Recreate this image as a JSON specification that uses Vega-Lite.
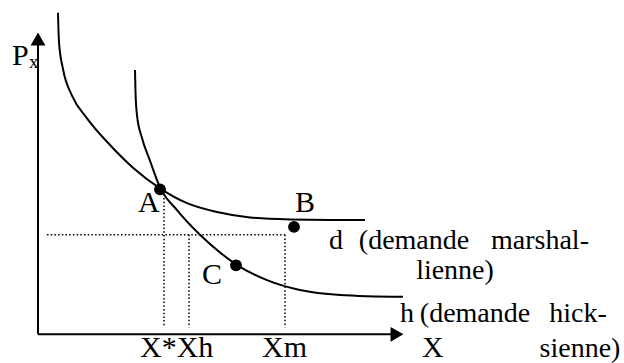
{
  "$schema": "https://vega.github.io/schema/vega-lite/v6.json",
  "width": 624,
  "height": 363,
  "autosize": {"type": "fit", "contains": "padding"},
  "padding": 0,
  "background": "white",
  "config": {"view": {"stroke": null}, "font": "'Liberation Serif', 'Times New Roman', serif"},
  "datasets": {
    "curves": [
      {"curve": "d", "i": 0, "x": 58, "y": 350},
      {"curve": "d", "i": 1, "x": 59, "y": 320},
      {"curve": "d", "i": 2, "x": 63, "y": 293},
      {"curve": "d", "i": 3, "x": 72, "y": 266},
      {"curve": "d", "i": 4, "x": 87, "y": 243},
      {"curve": "d", "i": 5, "x": 110, "y": 216},
      {"curve": "d", "i": 6, "x": 133, "y": 193},
      {"curve": "d", "i": 7, "x": 160, "y": 172},
      {"curve": "d", "i": 8, "x": 187, "y": 157},
      {"curve": "d", "i": 9, "x": 217, "y": 148},
      {"curve": "d", "i": 10, "x": 250, "y": 142.5},
      {"curve": "d", "i": 11, "x": 290, "y": 140.5},
      {"curve": "d", "i": 12, "x": 330, "y": 140},
      {"curve": "d", "i": 13, "x": 365, "y": 140},
      {"curve": "h", "i": 0, "x": 135, "y": 292},
      {"curve": "h", "i": 1, "x": 135.5, "y": 270},
      {"curve": "h", "i": 2, "x": 137, "y": 246},
      {"curve": "h", "i": 3, "x": 142, "y": 223},
      {"curve": "h", "i": 4, "x": 150, "y": 200},
      {"curve": "h", "i": 5, "x": 160, "y": 173},
      {"curve": "h", "i": 6, "x": 177, "y": 150},
      {"curve": "h", "i": 7, "x": 200, "y": 125},
      {"curve": "h", "i": 8, "x": 220, "y": 107},
      {"curve": "h", "i": 9, "x": 236, "y": 95},
      {"curve": "h", "i": 10, "x": 267, "y": 79},
      {"curve": "h", "i": 11, "x": 300, "y": 69},
      {"curve": "h", "i": 12, "x": 340, "y": 64},
      {"curve": "h", "i": 13, "x": 403, "y": 62}
    ],
    "points": [
      {"name": "A", "x": 160, "y": 171},
      {"name": "B", "x": 294, "y": 133},
      {"name": "C", "x": 236, "y": 94}
    ],
    "dotted": [
      {"x": 47, "y": 125, "x2": 285, "y2": 125},
      {"x": 164, "y": 166, "x2": 164, "y2": 31},
      {"x": 189, "y": 125, "x2": 189, "y2": 31},
      {"x": 285, "y": 125, "x2": 285, "y2": 31}
    ],
    "axes": [
      {"x": 38, "y": 24, "x2": 38, "y2": 318},
      {"x": 38, "y": 24, "x2": 392, "y2": 24}
    ],
    "arrowUp": [{"x": 38, "y": 323.5}],
    "arrowRight": [{"x": 397, "y": 24}],
    "letters": [
      {"label": "P", "x": 12, "y": 297},
      {"label": "A", "x": 138, "y": 148},
      {"label": "B", "x": 295, "y": 148},
      {"label": "C", "x": 202, "y": 75},
      {"label": "X*Xh", "x": 140, "y": 1},
      {"label": "Xm", "x": 262, "y": 1},
      {"label": "X", "x": 422, "y": 1}
    ],
    "subscript": [{"label": "x", "x": 29, "y": 294}],
    "curveLabels": [
      {"label": "d", "x": 336, "y": 111},
      {"label": "(demande", "x": 414, "y": 111},
      {"label": "marshal-", "x": 540, "y": 111},
      {"label": "lienne)", "x": 455, "y": 80},
      {"label": "h", "x": 407, "y": 37},
      {"label": "(demande", "x": 475, "y": 37},
      {"label": "hick-", "x": 578, "y": 37},
      {"label": "sienne)", "x": 580, "y": 1}
    ]
  },
  "encoding": {
    "x": {"field": "x", "type": "quantitative", "scale": {"domain": [0, 624], "nice": false, "zero": false}, "axis": null},
    "y": {"field": "y", "type": "quantitative", "scale": {"domain": [0, 363], "nice": false, "zero": false}, "axis": null}
  },
  "layer": [
    {
      "data": {"name": "dotted"},
      "mark": {"type": "rule", "color": "black", "strokeWidth": 1.5, "strokeDash": [1.5, 2.2]},
      "encoding": {"x2": {"field": "x2"}, "y2": {"field": "y2"}}
    },
    {
      "data": {"name": "axes"},
      "mark": {"type": "rule", "color": "black", "strokeWidth": 2},
      "encoding": {"x2": {"field": "x2"}, "y2": {"field": "y2"}}
    },
    {
      "data": {"name": "arrowUp"},
      "mark": {"type": "point", "shape": "triangle-up", "filled": true, "color": "black", "size": 220, "opacity": 1}
    },
    {
      "data": {"name": "arrowRight"},
      "mark": {"type": "point", "shape": "triangle-right", "filled": true, "color": "black", "size": 220, "opacity": 1}
    },
    {
      "data": {"name": "curves"},
      "mark": {"type": "line", "color": "black", "strokeWidth": 2, "interpolate": "monotone"},
      "encoding": {"detail": {"field": "curve"}, "order": {"field": "i", "type": "quantitative"}}
    },
    {
      "data": {"name": "points"},
      "mark": {"type": "circle", "color": "black", "size": 140, "opacity": 1}
    },
    {
      "data": {"name": "letters"},
      "mark": {"type": "text", "align": "left", "baseline": "alphabetic", "fontSize": 30, "font": "'Liberation Serif', 'Times New Roman', serif", "color": "black"},
      "encoding": {"text": {"field": "label"}}
    },
    {
      "data": {"name": "subscript"},
      "mark": {"type": "text", "align": "left", "baseline": "alphabetic", "fontSize": 19, "font": "'Liberation Serif', 'Times New Roman', serif", "color": "black"},
      "encoding": {"text": {"field": "label"}}
    },
    {
      "data": {"name": "curveLabels"},
      "mark": {"type": "text", "align": "center", "baseline": "alphabetic", "fontSize": 28, "font": "'Liberation Serif', 'Times New Roman', serif", "color": "black"},
      "encoding": {"text": {"field": "label"}}
    }
  ]
}
